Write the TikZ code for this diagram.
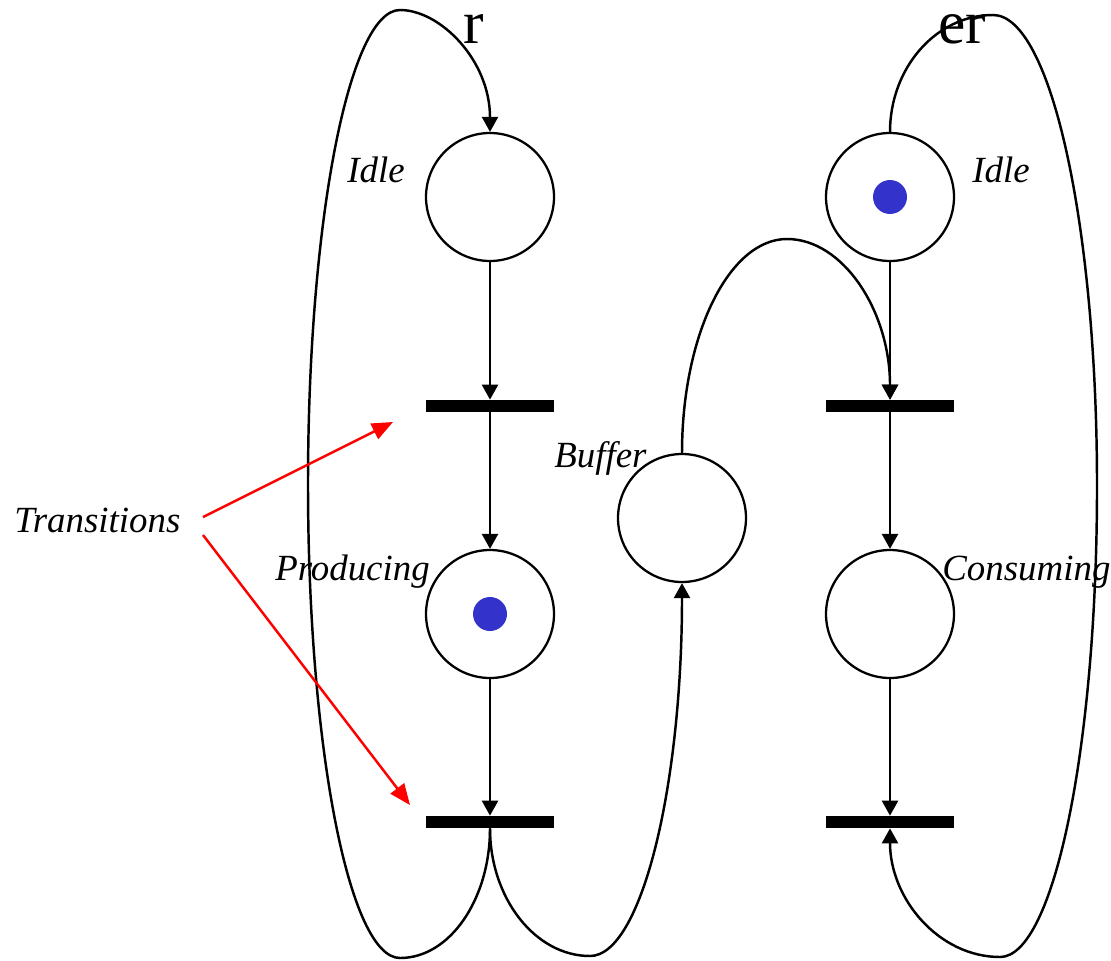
\documentclass[tikz,border=0pt]{standalone}
\usepackage{fontspec}
\setmainfont{Liberation Serif}
\usetikzlibrary{arrows.meta}
\definecolor{tokenblue}{HTML}{3333CC}
\tikzset{
  place/.style={circle, draw, line width=1.3pt, minimum size=2.56cm, inner sep=0pt},
  bar/.style={rectangle, fill=black, minimum width=2.56cm, minimum height=0.24cm, inner sep=0pt},
  token/.style={circle, fill=tokenblue, minimum size=0.68cm, inner sep=0pt},
  arc/.style={line width=1.4pt, -{Triangle[length=0.3cm,width=0.32cm]}},
  pointer/.style={red, line width=1.4pt, -{Triangle[length=0.42cm,width=0.34cm]}},
  lbl/.style={font=\fontsize{21}{25}\selectfont\itshape, inner sep=0pt, anchor=base west},
  big/.style={font=\fontsize{35}{40}\selectfont, inner sep=0pt, anchor=base west},
}
\begin{document}
\begin{tikzpicture}[x=0.02cm, y=-0.02cm]
\useasboundingbox (0,0) rectangle (1111,960);
% places
\node[place] (IdleP) at (490,197) {};
\node[place] (Prod) at (490,614) {};
\node[place] (Buffer) at (682,518) {};
\node[place] (IdleC) at (890,197) {};
\node[place] (Cons) at (890,614) {};
% tokens
\node[token] (tokP) at (490,614) {};
\node[token] (tokC) at (890,197) {};
% transitions
\node[bar] (T1) at (490,406) {};
\node[bar] (T2) at (490,822) {};
\node[bar] (T3) at (890,406) {};
\node[bar] (T4) at (890,822) {};
% straight arcs
\draw[arc] (IdleP) -- (T1);
\draw[arc] (T1) -- (Prod);
\draw[arc] (Prod) -- (T2);
\draw[arc] (IdleC) -- (T3);
\draw[arc] (T3) -- (Cons);
\draw[arc] (Cons) -- (T4);
% producer loop
\draw[arc] (T2.south) .. controls (490,899) and (450,958) .. (400,958)
  .. controls (349,958) and (308,746) .. (308,484)
  .. controls (308,222) and (349,10) .. (400,10)
  .. controls (440,10) and (490,60) .. (IdleP.north);
% T2 -> buffer
\draw[arc] (T2.south) .. controls (490,898) and (535,956) .. (590,956)
  .. controls (641,956) and (682,788) .. (Buffer.south);
% buffer -> T3
\draw[arc] (Buffer.north) .. controls (682,335) and (729,239) .. (787,239)
  .. controls (843,239) and (890,311) .. (T3.north);
% consumer loop
\draw[arc] (IdleC.north) .. controls (890,68) and (936,15) .. (993,15)
  .. controls (1051,15) and (1097,226) .. (1097,486)
  .. controls (1097,746) and (1054,957) .. (1000,957)
  .. controls (939,957) and (890,899) .. (T4.south);
% labels
\node[lbl] (lTrans) at (14,532) {Transitions};
\node[lbl] (lIdleP) at (347,182) {Idle};
\node[lbl] (lIdleC) at (972,182) {Idle};
\node[lbl] (lBuf) at (554,467) {Buffer};
\node[lbl] (lProd) at (275,580) {Producing};
\node[lbl] (lCons) at (942,580) {Consuming};
\node[big] (lr) at (463,43) {r};
\node[big] (ler) at (938,43) {er};
% pointers
\coordinate (s1) at (203,517);
\coordinate (e1) at (393,422);
\coordinate (s2) at (203,535);
\coordinate (e2) at (410,805);
\draw[pointer] (s1) -- (e1);
\draw[pointer] (s2) -- (e2);
\end{tikzpicture}
\end{document}
